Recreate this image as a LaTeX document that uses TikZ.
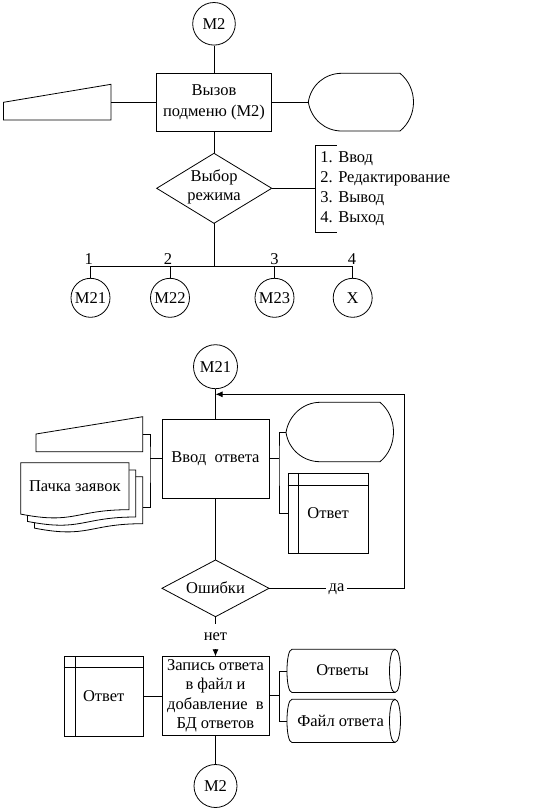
\documentclass[tikz,border=0pt]{standalone}
\usepackage{fontspec}
\setmainfont{Liberation Serif}
\usetikzlibrary{arrows.meta}
\begin{document}
\begin{tikzpicture}[x=1pt,y=-1pt, line width=0.8pt,
  every node/.style={font=\fontsize{16.5}{20}\selectfont, inner sep=0pt},
  circ/.style={draw, circle, inner sep=0pt},
  procbox/.style={draw, rectangle, align=center},
  arrowtip/.style={-{Latex[length=7pt,width=6pt]}},
  shapeline/.style={draw, fill=white}]
\useasboundingbox (0,0) rectangle (533,809);

% ---------- top section ----------
\node[circ, minimum size=42.6pt] (m2a) at (214,23.8) {М2};
\node[procbox, minimum width=114.3pt, minimum height=57.7pt, font=\fontsize{16.5}{21}\selectfont] (b1) at (214,102.2) {Вызов\\подменю (М2)};
\draw (m2a.south) -- (b1.north);

% keyboard
\draw (3.4,102.3) -- (111,84.3) -- (111,120) -- (3.4,120) -- cycle;
\coordinate (kb1e) at (111,102.2);
\draw (kb1e) -- (b1.west);

% display
\draw (308.3,102) .. controls (311,85) and (325,73.3) .. (341.7,73.3) -- (400,73.3)
  .. controls (418,88) and (418,116.3) .. (400,131) -- (341.7,131)
  .. controls (325,131) and (311,119) .. (308.3,102) -- cycle;
\coordinate (disp1w) at (308.3,102.2);
\draw (b1.east) -- (disp1w);

% decision
\coordinate (d1n) at (214,153.3);
\coordinate (d1e) at (271.7,188.3);
\coordinate (d1s) at (214,223.3);
\coordinate (d1w) at (156.7,188.3);
\draw (d1n) -- (d1e) -- (d1s) -- (d1w) -- cycle;
\node[align=center, font=\fontsize{16.5}{19}\selectfont] (d1t) at (214,186.7) {Выбор\\режима};
\draw (b1.south) -- (d1n);

% comment list
\draw (336.5,145) -- (315,145) -- (315,232.3) -- (336.5,232.3);
\coordinate (lst) at (315,188.3);
\draw (d1e) -- (lst);
\node[align=left, anchor=west] (list) at (320,188.3) {1. Ввод\\2. Редактирование\\3. Вывод\\4. Выход};

% bus and connectors
\coordinate (bus) at (214,266.7);
\draw (d1s) -- (bus);
\node[circ, minimum size=39pt] (c1) at (90.5,297.8) {М21};
\node[circ, minimum size=39pt] (c2) at (170,297.8) {М22};
\node[circ, minimum size=39pt] (c3) at (274.5,297.8) {М23};
\node[circ, minimum size=39pt] (c4) at (352.7,297.8) {X};
\draw (c1.north) |- (bus);
\draw (c4.north) |- (bus);
\draw (c2.north) -- (c2.north |- bus);
\draw (c3.north) -- (c3.north |- bus);
\node (l1) at (88.8,259.5) {1};
\node (l2) at (168,259.5) {2};
\node (l3) at (274.5,259.5) {3};
\node (l4) at (352,259.5) {4};

% ---------- middle section ----------
\node[circ, minimum size=44pt] (m21) at (215.5,366.7) {М21};
\node[procbox, minimum width=107pt, minimum height=78.7pt] (b2) at (215.5,458.7) {Ввод~~ответа};
\draw (m21.south) -- (b2.north);

% keyboard 2
\draw (36,434) -- (142.7,416.7) -- (142.7,451.7) -- (36,451.7) -- cycle;
\coordinate (kb2e) at (142.7,434);

% document pack
\draw[shapeline] (34.4,476.7) -- (142.7,476.7) -- (142.7,523.7)
  .. controls (88.55,523.7) and (88.55,538.7) .. (34.4,528.1) -- cycle;
\draw[shapeline] (27.4,470) -- (135.7,470) -- (135.7,517)
  .. controls (81.55,517) and (81.55,532) .. (27.4,521.4) -- cycle;
\draw[shapeline] (20.7,462.7) -- (129,462.7) -- (129,509.7)
  .. controls (74.85,509.7) and (74.85,524.7) .. (20.7,514.1) -- cycle;
\node (pz) at (74.8,485.7) {Пачка заявок};
\coordinate (docse) at (142.7,507);
\coordinate (brl) at (150,458.7);
\draw (kb2e) -| (brl) |- (docse);
\draw (brl) -- (b2.west);

% display 2
\draw (286,432.5) .. controls (288.7,415.2) and (303.3,402.3) .. (320,402.3) -- (380,402.3)
  .. controls (398,417) and (398,447) .. (380,461.7) -- (320,461.7)
  .. controls (303.3,461.7) and (288.7,449.8) .. (286,432.5) -- cycle;
\coordinate (disp2w) at (286,432.5);

% internal storage 1
\node[draw, minimum width=80.3pt, minimum height=80pt] (st1) at (328.15,513.3) {Ответ};
\draw ([xshift=11pt]st1.north west) -- ([xshift=11pt]st1.south west);
\draw ([yshift=-12.4pt]st1.north west) -- ([yshift=-12.4pt]st1.north east);
\coordinate (brr) at (279,458.7);
\draw (b2.east) -- (brr);
\draw (disp2w) -| (brr) |- (st1.west);

% decision 2
\coordinate (d2n) at (215.5,560);
\coordinate (d2e) at (269,588.3);
\coordinate (d2s) at (215.5,616.7);
\coordinate (d2w) at (162,588.3);
\draw (d2n) -- (d2e) -- (d2s) -- (d2w) -- cycle;
\node (d2t) at (215.5,587.2) {Ошибки};
\draw (b2.south) -- (d2n);

% yes loop
\node[inner xsep=2pt] (da) at (336.5,589.5) {да};
\coordinate (loopc) at (404,394.3);
\coordinate (arr) at (215.5,394.3);
\draw (d2e) -- (d2e -| da.west);
\draw[arrowtip] (da.east |- d2e) -| (loopc) -- (arr);

% no
\node[inner ysep=8pt] (net) at (215.5,636.7) {нет};
\draw (d2s) -- (net.north);

% ---------- bottom section ----------
\node[procbox, minimum width=107pt, minimum height=78.3pt, font=\fontsize{16.5}{19.4}\selectfont] (b3) at (215.5,695.85) {Запись ответа\\в файл и\\добавление~~в\\БД ответов};
\draw[arrowtip] (net.south) -- (b3.north);

% internal storage 2
\node[draw, minimum width=79.6pt, minimum height=79.3pt] (st2) at (103.7,696.35) {Ответ};
\draw ([xshift=11.9pt]st2.north west) -- ([xshift=11.9pt]st2.south west);
\draw ([yshift=-10.6pt]st2.north west) -- ([yshift=-10.6pt]st2.north east);
\draw (st2.east) -- (st2.east -| b3.west);

% stored data cylinders
\draw (292,649.3) -- (395,649.3) .. controls (402.3,649.3) and (402.3,692.5) .. (395,692.5)
  -- (292,692.5) .. controls (285.3,692.5) and (285.3,649.3) .. (292,649.3) -- cycle;
\draw (395,649.3) .. controls (387.7,649.3) and (387.7,692.5) .. (395,692.5);
\draw (292,699.3) -- (395,699.3) .. controls (402.3,699.3) and (402.3,742.5) .. (395,742.5)
  -- (292,742.5) .. controls (285.3,742.5) and (285.3,699.3) .. (292,699.3) -- cycle;
\draw (395,699.3) .. controls (387.7,699.3) and (387.7,742.5) .. (395,742.5);
\node (cy1t) at (342.5,670) {Ответы};
\node (cy2t) at (340.6,721) {Файл ответа};
\coordinate (cy1w) at (287,670.9);
\coordinate (cy2w) at (287,720.9);
\coordinate (brr3) at (279.3,695.85);
\draw (b3.east) -- (brr3);
\draw (cy1w) -| (brr3) |- (cy2w);

\node[circ, minimum size=43pt] (m2b) at (215.5,786) {М2};
\draw (b3.south) -- (m2b.north);
\end{tikzpicture}
\end{document}
